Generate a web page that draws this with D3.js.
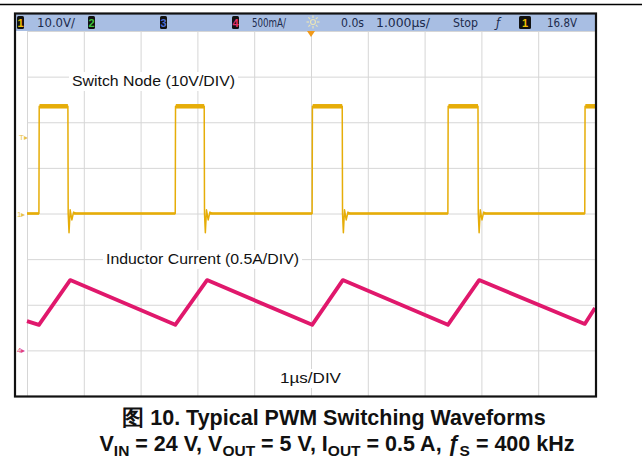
<!DOCTYPE html>
<html>
<head>
<meta charset="utf-8">
<script src="https://cdn.jsdelivr.net/npm/d3@7"></script>
<style>
  body { margin: 0; background: #fff; }
  text { font-family: "Liberation Sans", Arial, sans-serif; }
  .hdr { font-family: "Liberation Sans Narrow", "DejaVu Sans Condensed", "Liberation Sans", sans-serif; font-size: 13px; fill: #1c2b4d; }
</style>
</head>
<body>
<svg id="scope" width="642" height="476"></svg>
<script>
// time in µs, 1 µs/div, 10 div
const riseT = [0.21, 2.61, 5.02, 7.41, 9.82];
const fallT = [0.72, 3.12, 5.55, 7.94];
const swHigh = 23.5;   // V
const swLow = 0;
// ringing after the falling edge: [dt µs, volts]
const ringing = [[0.02, -4.2], [0.04, 0.8], [0.07, -1.4], [0.1, 0.3], [0.14, 0]];

// inductor current corners: [t µs, A]
const ilT = [0, 0.21, 0.76, 2.61, 3.17, 5.02, 5.56, 7.41, 7.96, 9.82, 10];
const ilA = [0.32, 0.28, 0.77, 0.28, 0.77, 0.28, 0.77, 0.28, 0.77, 0.29, 0.465];

const header = [
  {t: "10.0V/", x: 37, w: 38},
  {t: "500mA/", x: 252, w: 34},
  {t: "0.0s", x: 341, w: 23},
  {t: "1.000µs/", x: 376, w: 54},
  {t: "Stop", x: 453, w: 25},
  {t: "16.8V", x: 547, w: 30}
];
const chanBoxes = [
  {n: "1", x: 17, c: "#f0c000"},
  {n: "2", x: 88, c: "#3ec43e"},
  {n: "3", x: 160, c: "#4d6fd6"},
  {n: "4", x: 232, c: "#e8306a"},
  {n: "1", x: 519, c: "#f0c000"}
];

const svg = d3.select("#scope");
const x = d3.scaleLinear().domain([0, 10]).range([27, 595]);
const y = d3.scaleLinear().domain([-4, 4]).range([396, 31]);
const yV = v => y(v / 10);          // ch1 10V/div, ground at centre
const yA = a => y(a / 0.5 - 3);     // ch4 0.5A/div, ground 3 div below centre

// top rule
svg.append("line").attr("x1", 0).attr("x2", 642).attr("y1", 4.5).attr("y2", 4.5)
  .attr("stroke", "#000").attr("stroke-width", 1.5);

// grid
svg.append("g")
  .attr("transform", `translate(0,${y(-4)})`)
  .call(d3.axisBottom(x).tickValues(d3.range(0, 11)).tickSize(-(y(-4) - y(4))).tickFormat(""))
  .call(g => g.select(".domain").remove())
  .call(g => g.selectAll("line").attr("stroke", "#d6d6d6"));
svg.append("g")
  .attr("transform", `translate(${x(0)},0)`)
  .call(d3.axisLeft(y).tickValues(d3.range(-4, 5)).tickSize(-(x(10) - x(0))).tickFormat(""))
  .call(g => g.select(".domain").remove())
  .call(g => g.selectAll("line").attr("stroke", "#d6d6d6"));

// header bar
svg.append("rect").attr("x", 15).attr("y", 14).attr("width", 581).attr("height", 17).attr("fill", "#a8bee3");
header.forEach(h => {
  svg.append("text").attr("class", "hdr").attr("x", h.x).attr("y", 27)
    .attr("textLength", h.w).attr("lengthAdjust", "spacingAndGlyphs").text(h.t);
});
chanBoxes.forEach(b => {
  const wide = b.x > 400;
  svg.append("rect").attr("x", b.x).attr("y", 16).attr("width", wide ? 12 : 7).attr("height", 13)
    .attr("rx", 1.5).attr("fill", "#111");
  svg.append("text").attr("x", b.x + (wide ? 6 : 3.5)).attr("y", 27).attr("text-anchor", "middle")
    .attr("font-size", 11).attr("font-weight", "bold").attr("fill", b.c).text(b.n);
});
svg.append("text").attr("class", "hdr").attr("x", 496).attr("y", 27).attr("font-style", "italic").text("ƒ");
// sun icon
const sun = svg.append("g").attr("transform", "translate(313,22)").attr("stroke", "#e9e4b8").attr("stroke-width", 1.2);
sun.append("circle").attr("r", 2.5).attr("fill", "none");
d3.range(8).forEach(i => {
  const a = i * Math.PI / 4;
  sun.append("line").attr("x1", Math.cos(a) * 4).attr("y1", Math.sin(a) * 4)
    .attr("x2", Math.cos(a) * 6.5).attr("y2", Math.sin(a) * 6.5);
});
// trigger position marker
svg.append("path").attr("d", `M${x(5) - 4},31 L${x(5) + 4},31 L${x(5)},37 Z`).attr("fill", "#f29a1a");

// labels with white backing
const labels = [
  {t: "Switch Node (10V/DIV)", x: 72, y: 86, w: 163},
  {t: "Inductor Current (0.5A/DIV)", x: 106, y: 264, w: 193},
  {t: "1µs/DIV", x: 280, y: 383, w: 61}
];
labels.forEach(l => {
  svg.append("rect").attr("x", l.x - 3).attr("y", l.y - 14).attr("width", l.w + 6).attr("height", 19).attr("fill", "#fff");
  svg.append("text").attr("x", l.x).attr("y", l.y).attr("font-size", 15)
    .attr("textLength", l.w).attr("lengthAdjust", "spacingAndGlyphs").attr("fill", "#111").text(l.t);
});

// switch node trace
const sw = [[0, swLow]];
riseT.forEach((r, i) => {
  sw.push([r, swLow], [r + 0.005, swHigh]);
  const f = fallT[i];
  if (f !== undefined) {
    sw.push([f, swHigh], [f + 0.005, swLow]);
    ringing.forEach(([dt, v]) => sw.push([f + dt, v]));
  } else {
    sw.push([10, swHigh]);
  }
});
const swColor = "#e6ad08";
const line = d3.line().x(d => x(d[0])).y(d => yV(d[1]));
svg.append("path").datum(sw).attr("d", line)
  .attr("fill", "none").attr("stroke", swColor).attr("stroke-width", 1.5).attr("stroke-linejoin", "round");
// thicker noisy levels
riseT.forEach((r, i) => {
  const f = fallT[i] !== undefined ? fallT[i] : 10;
  svg.append("path").datum([[r + 0.01, swHigh], [f, swHigh]]).attr("d", line)
    .attr("fill", "none").attr("stroke", swColor).attr("stroke-width", 4.5);
  const lowStart = i === 0 ? 0 : fallT[i - 1] + 0.1;
  svg.append("path").datum([[lowStart, swLow], [r, swLow]]).attr("d", line)
    .attr("fill", "none").attr("stroke", swColor).attr("stroke-width", 2.6);
});

// inductor current trace
const il = ilT.map((t, i) => [t, ilA[i]]);
svg.append("path").datum(il)
  .attr("d", d3.line().x(d => x(d[0])).y(d => yA(d[1])))
  .attr("fill", "none").attr("stroke", "#e0186c").attr("stroke-width", 3.8).attr("stroke-linejoin", "round");

// left-side channel markers
svg.append("text").attr("x", 17).attr("y", yV(0) + 3).attr("font-size", 8).attr("fill", "#e8c24a").text("1▸");
svg.append("text").attr("x", 19).attr("y", yV(16.8) + 3).attr("font-size", 8).attr("fill", "#e8c24a").text("T▸");
svg.append("text").attr("x", 17).attr("y", yA(0) + 3).attr("font-size", 8).attr("fill", "#e0407c").text("4▸");

// frame
svg.append("rect").attr("x", 15).attr("y", 13.5).attr("width", 581).attr("height", 383)
  .attr("fill", "none").attr("stroke", "#111").attr("stroke-width", 2.2);

// caption
svg.append("text").attr("x", 334).attr("y", 425).attr("text-anchor", "middle")
  .attr("font-size", 21.5).attr("font-weight", "bold").attr("fill", "#111")
  .text("图 10. Typical PWM Switching Waveforms");
const cap = svg.append("text").attr("x", 337).attr("y", 451).attr("text-anchor", "middle")
  .attr("font-size", 21.5).attr("font-weight", "bold").attr("fill", "#111");
const parts = [
  ["V"], ["IN", "sub"], [" = 24 V, V"], ["OUT", "sub"], [" = 5 V, I"], ["OUT", "sub"],
  [" = 0.5 A, "], ["ƒ", "it"], ["S", "sub"], [" = 400 kHz"]
];
let down = false;
parts.forEach(([t, k]) => {
  const ts = cap.append("tspan").text(t);
  if (k === "sub") { ts.attr("font-size", 15.5).attr("dy", down ? 0 : 5); down = true; }
  else { if (down) ts.attr("dy", -5); down = false; }
  if (k === "it") ts.attr("font-style", "italic");
});
</script>
</body>
</html>
